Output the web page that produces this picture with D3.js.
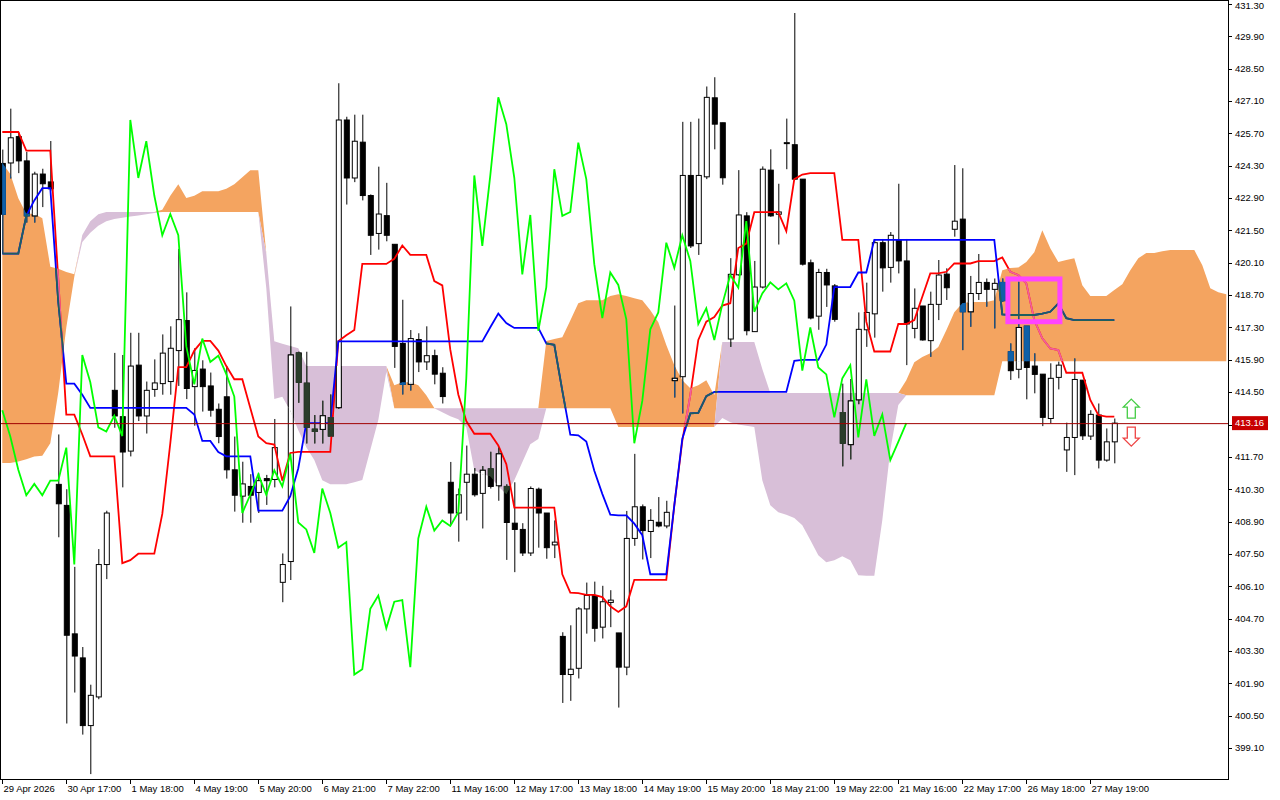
<!DOCTYPE html>
<html>
<head>
<meta charset="utf-8">
<title>Ichimoku chart</title>
<script src="https://cdn.jsdelivr.net/npm/d3@7/dist/d3.min.js"></script>
<style>
  body { margin: 0; background: #fff; }
  svg { display: block; }
  text { font-family: "Liberation Sans", "DejaVu Sans", sans-serif; font-size: 9.5px; }
</style>
</head>
<body>
<div id="chart"></div>
<script>
// candles, one per hour bar
var opens = [424.4,424.42,425.56,424.51,422.13,423.94,423.6,410.51,409.6,404.04,
403.0,400.07,401.31,407.04,414.58,413.44,411.95,415.67,413.47,414.62,
414.87,414.96,416.3,417.6,414.74,415.5,414.77,413.76,414.3,411.14,
410.0,410.42,410.16,410.76,410.72,406.27,407.17,416.2,414.89,412.9,
412.89,413.4,413.83,426.28,423.77,425.32,423.01,421.37,422.14,420.9,
416.61,414.84,416.78,415.81,416.08,415.32,410.6,409.27,410.6,410.95,
410.12,411.18,410.45,410.42,408.83,408.56,407.54,410.3,409.27,407.89,
403.93,402.28,402.55,405.12,405.7,404.33,405.4,404.08,402.6,408.17,
409.54,408.47,408.87,408.71,415.0,415.17,423.88,420.93,423.82,427.24,
426.16,416.8,419.58,422.13,417.12,419.05,424.11,422.2,425.3,425.21,
423.72,420.1,417.79,419.68,419.1,413.62,412.23,414.17,417.2,417.89,
420.97,419.9,421.07,420.18,417.26,418.23,416.73,418.3,419.61,421.55,
421.99,417.98,418.77,419.25,418.95,419.25,416.25,415.49,417.36,415.63,
415.28,413.36,415.14,412.0,412.54,415.02,412.6,413.51,411.56,412.35];
var closes = [422.2,425.51,424.51,422.13,423.94,423.52,423.3,409.67,403.98,403.08,
400.07,401.38,407.04,409.27,413.47,411.91,415.63,413.47,414.58,414.9,
416.19,416.4,417.64,414.66,415.44,414.74,413.72,412.58,411.14,410.04,
410.53,410.04,410.67,410.67,412.1,407.04,416.11,414.93,412.98,412.8,
413.48,412.6,426.28,423.77,425.36,423.01,421.29,422.21,421.29,416.48,
414.84,416.82,415.81,416.08,415.28,414.31,409.27,410.06,410.95,410.06,
411.12,410.42,411.83,408.86,408.56,407.54,410.33,409.27,407.77,408.01,
402.28,402.51,405.12,405.7,404.28,405.43,405.5,402.6,408.17,409.54,
408.51,408.95,408.71,409.3,415.1,423.88,420.83,423.88,427.26,426.1,
423.78,419.6,422.17,417.16,419.05,424.15,422.13,422.3,425.3,423.72,
420.04,417.71,419.68,419.14,417.65,412.29,414.12,417.22,417.95,420.97,
419.88,421.29,420.18,417.45,418.13,416.76,418.3,419.57,419.02,421.9,
417.98,418.77,419.25,418.95,419.21,418.46,415.43,417.3,415.57,415.27,
413.41,415.1,415.67,412.54,415.05,412.61,413.54,411.56,412.35,413.16];
var highs = [425.0,426.77,425.76,424.9,424.04,424.17,425.37,412.67,410.3,406.94,
403.47,401.84,407.71,409.37,416.2,416.11,417.07,417.07,414.96,415.92,
417.0,417.35,420.7,418.82,416.4,415.88,415.35,414.01,415.63,412.58,
411.49,410.95,410.99,410.92,413.34,407.52,418.21,416.25,416.25,413.51,
414.13,414.4,427.87,426.42,426.51,426.51,423.06,424.26,423.56,420.9,
418.5,417.19,417.05,417.35,416.34,415.58,411.48,410.33,412.19,411.21,
411.3,411.92,412.1,410.51,410.6,408.83,410.42,410.37,409.27,408.95,
404.11,404.41,405.2,406.26,406.3,406.12,405.93,404.08,409.36,411.83,
409.64,409.44,409.96,409.8,418.25,426.2,426.2,426.34,427.73,428.13,
426.16,420.3,424.11,422.29,420.18,424.27,425.01,423.52,426.34,430.91,
423.72,420.24,419.84,419.84,419.18,414.87,415.07,417.95,419.24,421.13,
421.13,421.43,423.52,421.13,418.99,418.23,418.85,420.22,419.86,424.33,
424.19,419.53,420.48,419.42,419.42,419.42,416.61,419.28,417.36,416.18,
415.28,415.75,415.82,413.18,415.96,415.02,413.72,414.01,412.93,413.36];
var lows = [420.5,423.75,423.98,421.84,421.84,422.51,423.2,408.22,400.16,401.5,
399.68,397.97,401.21,406.41,412.96,410.38,411.72,413.25,412.71,414.3,
414.39,414.39,414.77,414.2,413.05,413.66,413.44,412.29,410.76,409.33,
408.85,408.85,409.27,409.62,410.38,405.41,406.37,414.04,412.28,412.28,
412.28,412.63,413.78,422.62,423.59,422.8,420.44,420.67,421.03,415.55,
414.4,414.57,415.37,415.46,414.84,414.01,408.77,408.03,408.95,409.98,
408.6,410.33,409.8,407.24,406.71,407.41,407.41,407.77,407.29,407.32,
401.05,401.14,402.11,404.05,403.7,403.84,404.33,400.85,402.25,407.85,
407.26,407.32,408.65,408.61,414.27,413.58,420.74,420.44,423.72,425.01,
423.48,416.46,419.54,416.96,417.12,418.99,422.09,420.89,424.15,423.68,
419.98,417.65,417.2,418.19,417.55,411.29,411.59,413.98,416.46,416.86,
418.85,419.24,419.64,415.67,416.83,416.73,416.03,417.62,418.49,421.23,
416.32,417.33,418.49,418.2,417.26,418.41,415.03,415.1,414.19,414.45,
413.03,413.15,414.62,411.05,410.91,412.43,412.43,411.2,411.49,411.42];

// Ichimoku lines
var tenkan = [425.76,425.76,425.76,424.95,424.95,424.95,424.95,419.36,413.53,413.53,
412.67,411.72,411.72,411.72,411.72,407.1,407.23,407.51,407.51,407.51,
409.23,412.29,415.58,415.58,416.3,416.72,416.72,416.3,415.63,415.06,
415.06,413.82,412.58,412.29,412.23,410.67,411.87,411.92,411.92,411.92,
411.92,411.92,416.7,416.96,417.19,420.05,420.05,420.05,420.05,420.27,
420.85,420.44,420.44,420.44,419.31,419.12,416.34,414.4,413.25,412.7,
412.7,412.7,412.19,411.39,409.5,409.5,409.5,409.5,409.5,409.5,
406.62,405.82,405.8,405.73,405.73,405.63,405.23,404.99,405.23,406.38,
406.38,406.38,406.38,406.38,409.6,412.39,414.37,416.76,417.55,417.75,
418.25,418.35,420.74,420.93,422.29,422.29,422.29,422.29,421.47,423.72,
423.92,423.98,423.98,423.98,423.98,421.09,421.09,421.09,417.55,416.26,
416.26,416.26,417.45,417.45,417.62,418.63,419.64,419.64,419.71,420.07,
420.07,420.07,420.17,420.17,420.17,420.33,419.71,419.57,419.21,417.62,
416.83,416.39,416.32,415.34,415.34,415.34,414.16,413.51,413.44,413.44];
var kijun = [420.5,420.5,420.5,422.13,422.8,423.33,423.33,418.4,414.87,414.87,
414.39,413.82,413.82,413.82,413.82,413.82,413.82,413.82,413.82,413.82,
413.82,413.82,413.82,413.82,413.53,412.39,412.39,411.91,411.72,411.72,
411.72,411.72,409.37,409.37,409.37,409.37,410.0,411.21,413.16,413.16,
413.16,413.16,416.7,416.7,416.7,416.7,416.7,416.7,416.7,416.7,
416.7,416.7,416.7,416.7,416.7,416.7,416.7,416.7,416.7,416.7,
416.7,417.31,417.9,417.49,417.28,417.28,417.28,417.28,416.61,416.55,
414.57,412.66,412.63,412.36,411.1,410.1,409.2,409.17,409.17,408.81,
408.31,406.62,406.62,406.62,409.6,412.49,413.58,413.6,414.33,414.51,
414.51,414.51,414.51,414.51,414.51,414.51,414.51,414.51,414.51,415.86,
415.9,415.9,415.9,416.56,419.05,419.05,419.05,419.68,419.68,421.09,
421.09,421.09,421.09,421.09,421.09,421.09,421.09,421.09,421.09,421.09,
421.09,421.09,421.09,421.09,421.09,417.87,417.84,417.84,417.84,417.84,
417.9,417.98,418.34,417.7,417.62,417.62,417.62,417.62,417.62,417.62];
// Senkou spans, already shifted forward (to bar 153)
var spanA = [424.42,423.94,422.89,422.22,422.22,422.03,419.93,419.84,419.7,419.6,
421.0,421.4,421.7,421.9,422.0,422.05,422.1,422.15,422.2,422.25,
422.4,423.0,423.5,422.9,423.0,423.2,423.2,423.2,423.3,423.5,
423.8,424.1,424.1,419.0,414.2,414.3,413.7,412.85,412.12,411.56,
410.69,410.52,410.52,410.52,410.6,410.7,412.0,413.3,415.37,414.8,
414.93,414.93,414.8,414.37,413.81,413.63,413.46,413.33,412.98,411.12,
410.95,410.86,410.43,410.08,410.69,411.47,412.25,412.47,416.71,416.8,
416.88,417.6,418.35,418.48,418.48,418.48,418.66,418.74,418.66,418.57,
418.48,418.05,417.53,416.54,415.67,415.02,414.67,414.8,415.02,414.37,
413.38,413.2,413.1,413.05,412.99,410.69,409.61,409.3,409.2,409.05,
408.74,408.1,407.44,407.14,407.23,407.4,407.23,406.58,406.55,406.55,
408.96,412.0,413.94,415.02,415.8,416.02,416.19,416.45,417.18,417.96,
418.35,418.4,418.4,418.4,418.48,419.78,419.87,419.9,420.13,420.56,
421.51,420.73,420.13,420.22,420.3,419.13,418.66,418.66,418.66,418.92,
419.17,419.78,420.3,420.52,420.52,420.6,420.65,420.65,420.65,420.65,
419.99,419.0,418.83,418.74];
var spanB = [411.43,411.43,411.5,411.6,411.72,411.75,412.29,414.5,417.3,419.5,
421.3,421.9,422.2,422.3,422.3,422.3,422.3,422.3,422.3,422.3,
422.3,422.3,422.3,422.3,422.3,422.3,422.3,422.3,422.3,422.3,
422.3,422.3,422.3,420.5,416.7,416.6,416.5,416.4,415.63,415.63,
415.63,415.63,415.63,415.63,415.63,415.63,415.63,415.63,415.63,413.8,
413.8,413.8,413.8,413.8,413.8,413.8,413.8,413.8,413.8,413.8,
413.8,413.8,413.8,413.8,413.8,413.8,413.8,413.8,413.8,413.8,
413.8,413.8,413.8,413.8,413.8,413.8,413.8,412.99,412.99,412.99,
412.99,412.99,412.99,412.99,412.99,412.99,412.99,412.99,412.99,412.99,
416.67,416.67,416.67,416.67,416.67,415.5,414.46,414.46,414.46,414.46,
414.46,414.46,414.46,414.46,414.46,414.46,414.46,414.46,414.46,414.46,
414.46,414.46,414.46,414.37,414.37,414.37,414.37,414.37,414.37,414.37,
414.37,414.37,414.37,414.37,414.37,415.84,415.84,415.84,415.84,415.84,
415.84,415.84,415.84,415.84,415.84,415.84,415.84,415.84,415.84,415.84,
415.84,415.84,415.84,415.84,415.84,415.84,415.84,415.84,415.84,415.84,
415.84,415.84,415.84,415.84];

var priceTicks = [431.30,429.90,428.50,427.10,425.70,424.30,422.90,421.50,420.10,418.70,417.30,
  415.90,414.50,413.10,411.70,410.30,408.90,407.50,406.10,404.70,403.30,401.90,400.50,399.10];
var timeLabels = ["29 Apr 2026","30 Apr 17:00","1 May 18:00","4 May 19:00","5 May 20:00",
  "6 May 21:00","7 May 22:00","11 May 16:00","12 May 17:00","13 May 18:00","14 May 19:00",
  "15 May 20:00","18 May 21:00","19 May 22:00","21 May 16:00","22 May 17:00","26 May 18:00","27 May 19:00"];
var labelEvery = 8;
var lastPrice = 413.16;
var chikouShift = 26;
// highlighted box (bar range and price range)
var boxBars = [125.7, 132.2], boxPrices = [419.4, 417.55];

var W = 1280, H = 800, plotR = 1228, plotB = 779;
var svg = d3.select("#chart").append("svg").attr("width", W).attr("height", H);

var x = d3.scaleLinear().domain([0, 153]).range([2.3, 2.3 + 8 * 153]);
var y = d3.scaleLinear().domain([399.1, 431.3]).range([748, 4]);

svg.append("clipPath").attr("id", "plot").append("rect")
  .attr("x", 0).attr("y", 0).attr("width", plotR).attr("height", plotB);

var plot = svg.append("g").attr("clip-path", "url(#plot)");

// cloud
var idx = d3.range(spanA.length);
var orangeArea = d3.area().x(function(i) { return x(i); })
  .y0(function(i) { return y(spanB[i]); })
  .y1(function(i) { return y(Math.max(spanA[i], spanB[i])); });
var lilacArea = d3.area().x(function(i) { return x(i); })
  .y0(function(i) { return y(spanB[i]); })
  .y1(function(i) { return y(Math.min(spanA[i], spanB[i])); });
plot.append("path").attr("d", orangeArea(idx)).attr("fill", "#f4a460");
plot.append("path").attr("d", lilacArea(idx)).attr("fill", "#d8bfd8");
svg.append("clipPath").attr("id", "orange").append("path").attr("d", orangeArea(idx));
svg.append("clipPath").attr("id", "lilac").append("path").attr("d", lilacArea(idx));

var bars = d3.range(closes.length);

function drawCandles(g, ink) {
  g.selectAll("line.wick").data(bars).enter().append("line")
    .attr("x1", function(i) { return x(i) + 0.5; }).attr("x2", function(i) { return x(i) + 0.5; })
    .attr("y1", function(i) { return y(highs[i]); }).attr("y2", function(i) { return y(lows[i]); })
    .attr("stroke", ink).attr("stroke-width", 1);
  g.selectAll("rect.body").data(bars).enter().append("rect")
    .attr("x", function(i) { return x(i) - 2; })
    .attr("y", function(i) { return y(Math.max(opens[i], closes[i])); })
    .attr("width", 5)
    .attr("height", function(i) { return Math.max(1, Math.abs(y(opens[i]) - y(closes[i]))); })
    .attr("fill", function(i) { return closes[i] >= opens[i] ? "#fff" : ink; })
    .attr("stroke", function(i) { return closes[i] >= opens[i] ? "#000" : ink; })
    .attr("stroke-width", 1);
}

function lineOf(arr, from, to) {
  return d3.line().x(function(i) { return x(i); }).y(function(i) { return y(arr[i]); })(d3.range(from, to));
}

drawCandles(plot.append("g"), "#000");
plot.append("path").attr("d", lineOf(tenkan, 0, tenkan.length)).attr("fill", "none")
  .attr("stroke", "#ff0000").attr("stroke-width", 1.8);
plot.append("path").attr("d", lineOf(kijun, 0, kijun.length)).attr("fill", "none")
  .attr("stroke", "#0000ff").attr("stroke-width", 1.8);

// tinted parts inside the cloud
var inOrange = plot.append("g").attr("clip-path", "url(#orange)");
drawCandles(inOrange.append("g"), "#1060a8");
inOrange.append("path").attr("d", lineOf(tenkan, 0, tenkan.length)).attr("fill", "none")
  .attr("stroke", "#f0609c").attr("stroke-width", 1.8);
inOrange.append("path").attr("d", lineOf(kijun, 0, kijun.length)).attr("fill", "none")
  .attr("stroke", "#1d5f5f").attr("stroke-width", 1.8);
var inLilac = plot.append("g").attr("clip-path", "url(#lilac)");
drawCandles(inLilac.append("g"), "#2b3d2b");

// chikou: closes drawn 26 bars back
var chikou = d3.line().x(function(i) { return x(i - chikouShift); }).y(function(i) { return y(closes[i]); });
plot.append("path").attr("d", chikou(d3.range(chikouShift, closes.length))).attr("fill", "none")
  .attr("stroke", "#00ff00").attr("stroke-width", 1.8);

// current price line
plot.append("line").attr("x1", 0).attr("x2", plotR).attr("y1", y(lastPrice) + 0.5).attr("y2", y(lastPrice) + 0.5)
  .attr("stroke", "#a00000").attr("stroke-width", 1);

// highlight box
plot.append("rect")
  .attr("x", x(boxBars[0])).attr("y", y(boxPrices[0]))
  .attr("width", x(boxBars[1]) - x(boxBars[0])).attr("height", y(boxPrices[1]) - y(boxPrices[0]))
  .attr("fill", "none").attr("stroke", "#ff44ff").attr("stroke-width", 5);

// arrows next to last bar
var ax = x(closes.length - 1) + 17, yc = y(lastPrice);
plot.append("path")
  .attr("d", "M0,0 L8,8 L4,8 L4,19 L-4,19 L-4,8 L-8,8 Z")
  .attr("transform", "translate(" + ax + "," + (yc - 24) + ")")
  .attr("fill", "#fff").attr("stroke", "#44cc44").attr("stroke-width", 1.3);
plot.append("path")
  .attr("d", "M0,0 L8,-8 L4,-8 L4,-19 L-4,-19 L-4,-8 L-8,-8 Z")
  .attr("transform", "translate(" + ax + "," + (yc + 23) + ")")
  .attr("fill", "#fff").attr("stroke", "#ee4444").attr("stroke-width", 1.3);

// frame
svg.append("rect").attr("x", 0.5).attr("y", 0.5).attr("width", plotR).attr("height", plotB)
  .attr("fill", "none").attr("stroke", "#000");

// price axis
var pa = svg.append("g");
priceTicks.forEach(function(p) {
  pa.append("line").attr("x1", plotR).attr("x2", plotR + 4).attr("y1", Math.round(y(p)) + 0.5)
    .attr("y2", Math.round(y(p)) + 0.5).attr("stroke", "#000");
  pa.append("text").attr("x", plotR + 7).attr("y", Math.max(y(p), 6)).attr("dy", "0.35em").text(p.toFixed(2));
});
pa.append("rect").attr("x", plotR + 4).attr("y", yc - 7).attr("width", 36).attr("height", 14).attr("fill", "#c80000");
pa.append("text").attr("x", plotR + 7).attr("y", yc).attr("dy", "0.35em").attr("fill", "#fff").text(lastPrice.toFixed(2));

// time axis
var ta = svg.append("g");
timeLabels.forEach(function(t, k) {
  var tx = Math.round(x(k * labelEvery)) + 0.5;
  ta.append("line").attr("x1", tx).attr("x2", tx).attr("y1", plotB).attr("y2", plotB + 5).attr("stroke", "#000");
  ta.append("text").attr("x", tx + 1).attr("y", plotB + 13).text(t);
});
</script>
</body>
</html>
